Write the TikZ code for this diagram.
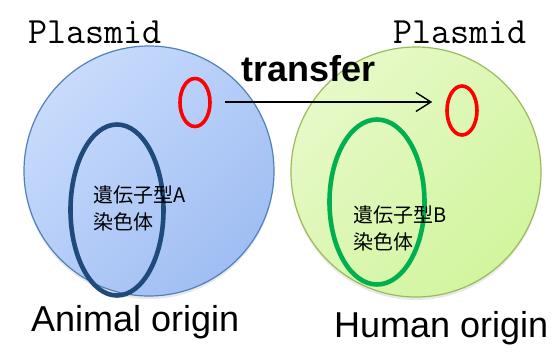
\documentclass[tikz,border=0pt]{standalone}
\usepackage{fontspec}
\setsansfont{Liberation Sans}
\newfontfamily\cjk{Noto Sans CJK JP}
\usetikzlibrary{shapes.geometric,arrows.meta,shadows}
\definecolor{bluefillA}{HTML}{C8DBFC}
\definecolor{bluefillB}{HTML}{A0BEF3}
\definecolor{blueedge}{HTML}{4F81BD}
\definecolor{greenfillA}{HTML}{E6F9C8}
\definecolor{greenfillB}{HTML}{D2F59E}
\definecolor{greenedge}{HTML}{9BBB59}
\definecolor{navy}{HTML}{1F4A7C}
\definecolor{chromgreen}{HTML}{00B050}
\tikzset{
  cell/.style={circle, minimum size=250pt, inner sep=0pt, line width=1.2pt,
    drop shadow={opacity=0.18, shadow xshift=0pt, shadow yshift=-3pt}},
  plasmidring/.style={ellipse, draw=red, line width=3.6pt, minimum width=30pt, minimum height=48pt, inner sep=0pt},
  chrom/.style={ellipse, line width=4.6pt, inner sep=0pt},
  monolabel/.style={font=\ttfamily\fontsize{37}{40}\selectfont, inner sep=0pt, anchor=base west},
  originlabel/.style={font=\sffamily\fontsize{36}{40}\selectfont, inner sep=0pt, anchor=base west},
  cjklabel/.style={font=\cjk\fontsize{20}{24}\selectfont, inner sep=0pt, anchor=west},
}
\begin{document}
\begin{tikzpicture}[x=1pt,y=-1pt]
\useasboundingbox (0,0) rectangle (558,354);
\fill[white] (0,0) rectangle (558,354);
% cells
\node[cell, draw=blueedge, top color=bluefillA, bottom color=bluefillB, shading angle=45] (lc) at (149,171) {};
\node[cell, draw=greenedge, top color=greenfillA, bottom color=greenfillB, shading angle=45] (rc) at (416,172) {};
% chromosomes
\node[chrom, draw=navy, minimum width=93pt, minimum height=171pt] (lchr) at (117,210) {};
\node[chrom, draw=chromgreen, minimum width=95pt, minimum height=165pt] (rchr) at (377,202) {};
% plasmids
\node[plasmidring] (lp) at (195,102.5) {};
\node[plasmidring, minimum height=49pt] (rp) at (462,110.5) {};
% arrow
\draw[line width=1.4pt, -{Straight Barb[length=15pt,width=19pt,line width=1.4pt]}]
  ([xshift=13pt]lp.east |- 0,102) -- ([xshift=-13pt]rp.west |- 0,102);
% labels
\node[monolabel] (pl) at (28,43) {Plasmid};
\node[monolabel] (pr) at (393,43) {Plasmid};
\node[font=\sffamily\bfseries\fontsize{36}{40}\selectfont, inner sep=0pt, anchor=base west] (tr) at (241,81) {transfer};
\node[cjklabel] (ga) at (93,195) {遺伝子型A};
\node[cjklabel] (ca) at (93,222) {染色体};
\node[cjklabel] (gb) at (353,215) {遺伝子型B};
\node[cjklabel] (cb) at (353,242) {染色体};
\node[originlabel] (ao) at (31,331) {Animal origin};
\node[originlabel] (ho) at (334,337) {Human origin};
\end{tikzpicture}
\end{document}
